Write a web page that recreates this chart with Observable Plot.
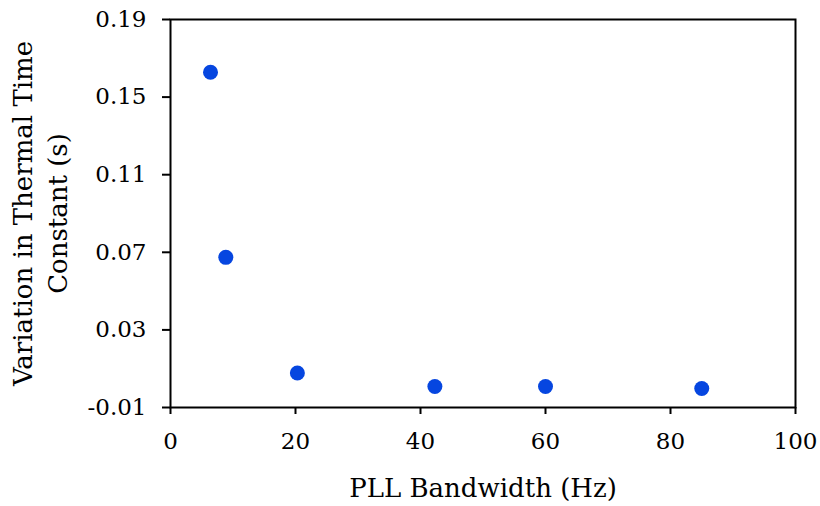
<!DOCTYPE html>
<html>
<head>
<meta charset="utf-8">
<script src="https://cdn.jsdelivr.net/npm/d3@7"></script>
<script src="https://cdn.jsdelivr.net/npm/@observablehq/plot@0.6"></script>
<style>
  html, body { margin: 0; padding: 0; background: #fff; }
  #chart svg { display: block; }
</style>
</head>
<body>
<div id="chart"></div>
<script>
const bandwidth = [6.4, 8.85, 20.3, 42.3, 60.0, 85.0];
const variation = [0.1628, 0.0674, 0.0078, 0.0008, 0.0008, -0.0002];
const xTicks = [0, 20, 40, 60, 80, 100];
const yTicks = [-0.01, 0.03, 0.07, 0.11, 0.15, 0.19];
const xLabel = "PLL Bandwidth (Hz)";
const yLabelLines = ["Variation in Thermal Time", "Constant (s)"];

const data = bandwidth.map((b, i) => ({x: b, y: variation[i]}));
const font = "DejaVu Serif";

const chart = Plot.plot({
  width: 820,
  height: 506,
  marginLeft: 170,
  marginRight: 25,
  marginTop: 19,
  marginBottom: 99,
  style: {fontFamily: font, fontSize: "23px", color: "#000", background: "#fff"},
  x: {domain: [0, 100], ticks: xTicks, label: null},
  y: {domain: [-0.01, 0.19], ticks: yTicks, label: null},
  marks: [
    Plot.frame({stroke: "#000", strokeWidth: 2}),
    Plot.axisX({ticks: xTicks, tickSize: 7, tickPadding: 18, strokeWidth: 2, fontSize: 23, label: null, tickFormat: d => String(d)}),
    Plot.axisY({ticks: yTicks, tickSize: 8, tickPadding: 16, strokeWidth: 2, fontSize: 23, label: null, tickFormat: d => d.toFixed(2).replace("\u2212", "-")}),
    Plot.dot(data, {x: "x", y: "y", r: 7.5, fill: "#0646e0", stroke: "none"}),
    Plot.text([xLabel], {frameAnchor: "bottom", dy: 81, fontSize: 26, lineAnchor: "middle", fill: "#000"}),
    Plot.text([yLabelLines[0]], {frameAnchor: "left", dx: -147, rotate: -90, fontSize: 26, lineAnchor: "middle", textAnchor: "middle", fill: "#000"}),
    Plot.text([yLabelLines[1]], {frameAnchor: "left", dx: -112, rotate: -90, fontSize: 26, lineAnchor: "middle", textAnchor: "middle", fill: "#000"})
  ]
});
document.getElementById("chart").appendChild(chart);
</script>
</body>
</html>
